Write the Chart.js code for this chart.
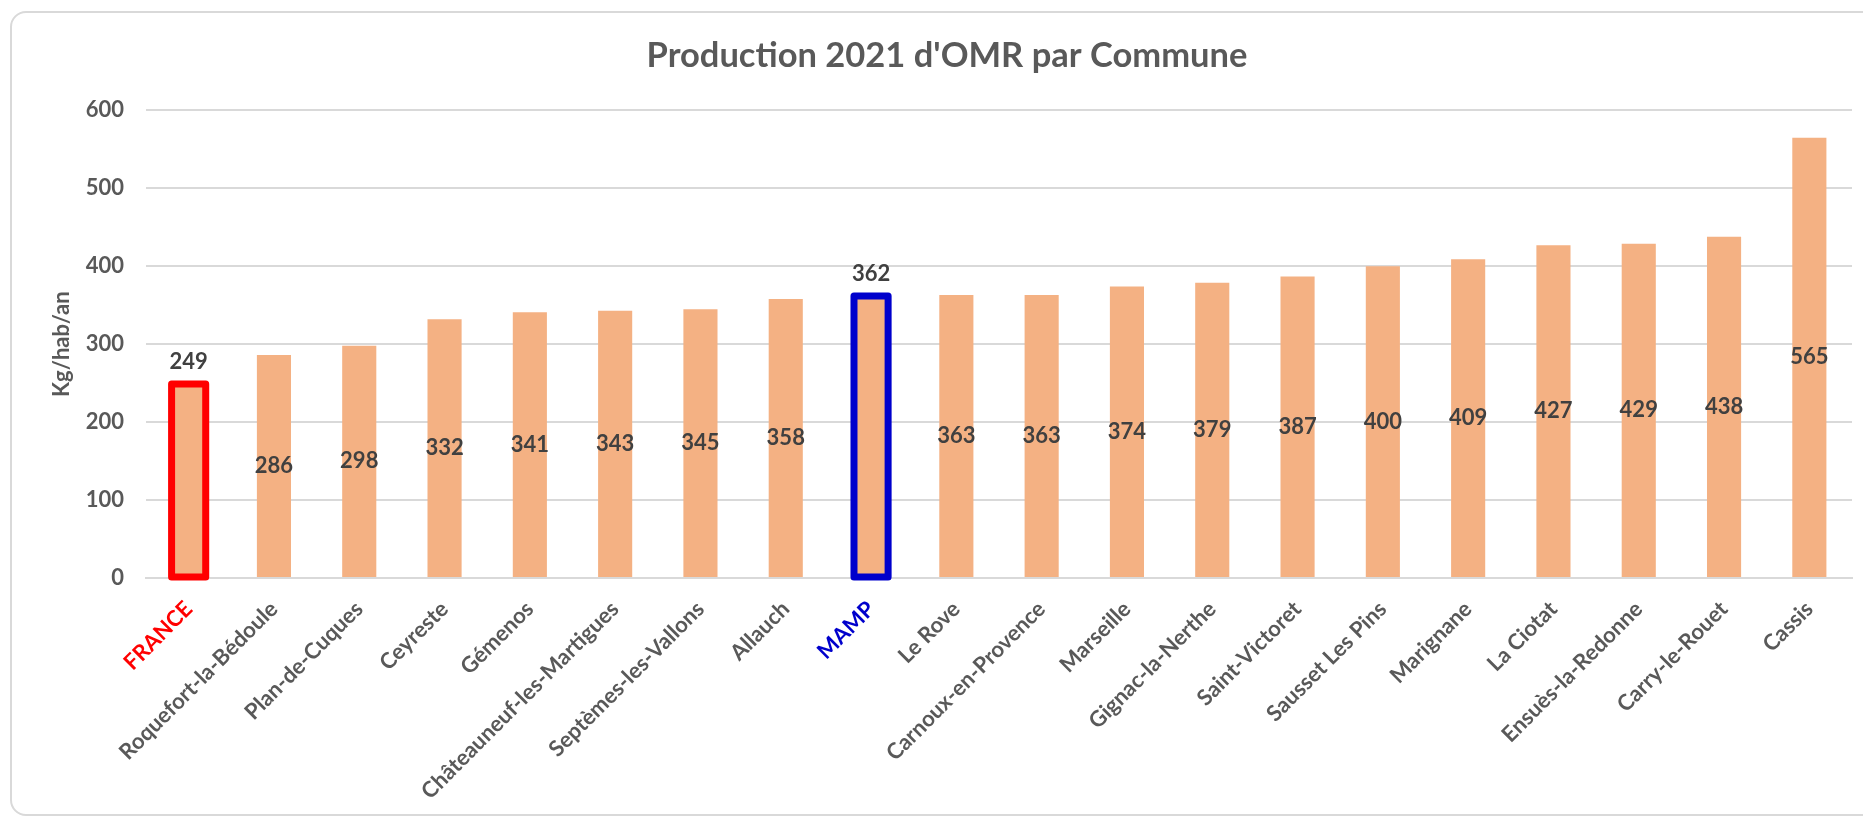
<!DOCTYPE html>
<html>
<head>
<meta charset="utf-8">
<script src="https://cdn.jsdelivr.net/npm/chart.js@4.4.0/dist/chart.umd.min.js"></script>
<style>
    html, body {
        margin: 0;
        padding: 0;
        background: #ffffff;
        overflow: hidden;
    }
    #frame {
        position: absolute;
        left: 10px;
        top: 11px;
        width: 1900px;
        height: 805px;
        border: 2px solid #d9d9d9;
        border-radius: 16px;
        box-sizing: border-box;
    }
    #wrap {
        position: absolute;
        left: 0;
        top: 0;
        width: 1863px;
        height: 817px;
    }
</style>
</head>
<body>
<div id="frame"></div>
<div id="wrap"><canvas id="omr"></canvas></div>
<script>
// communes, triees par production
let communes = ["FRANCE", "Roquefort-la-Bédoule", "Plan-de-Cuques", "Ceyreste", "Gémenos",
    "Châteauneuf-les-Martigues", "Septèmes-les-Vallons", "Allauch", "MAMP", "Le Rove",
    "Carnoux-en-Provence", "Marseille", "Gignac-la-Nerthe", "Saint-Victoret", "Sausset Les Pins",
    "Marignane", "La Ciotat", "Ensuès-la-Redonne", "Carry-le-Rouet", "Cassis"];

// kg/hab/an
let production = [249, 286, 298, 332, 341, 343, 345, 358, 362, 363,
    363, 374, 379, 387, 400, 409, 427, 429, 438, 565];

let yTicks = [0, 100, 200, 300, 400, 500, 600];

// references mises en avant (France / metropole)
let references = { "FRANCE": "#FF0000", "MAMP": "#0000CC" };

const FONT = "Lato, 'Liberation Sans', sans-serif";
const GREY = "#595959";
const LABEL = "#404040";

// contour des barres de reference + etiquettes de valeur
let barLabels = {
    id: 'barLabels',
    afterDatasetsDraw(chart) {
        let ctx = chart.ctx;
        let meta = chart.getDatasetMeta(0);
        ctx.save();
        meta.data.forEach((bar, i) => {
            let name = communes[i];
            let ref = references[name];
            let w = bar.width;
            if (ref) {
                ctx.strokeStyle = ref;
                ctx.lineWidth = 7;
                ctx.lineJoin = 'round';
                ctx.strokeRect(bar.x - w / 2, bar.y, w, bar.base - bar.y);
            }
            ctx.fillStyle = LABEL;
            ctx.font = "bold 22px " + FONT;
            ctx.textAlign = 'center';
            ctx.textBaseline = 'middle';
            let y = ref ? bar.y - 22 : (bar.y + bar.base) / 2;
            ctx.fillText(String(production[i]), bar.x, y);
        });
        ctx.restore();
    }
};

let chart = new Chart(document.getElementById('omr'), {
    type: 'bar',
    data: {
        labels: communes,
        datasets: [{
            data: production,
            backgroundColor: '#F4B183',
            borderWidth: 0,
            barPercentage: 0.4,
            categoryPercentage: 1
        }]
    },
    options: {
        responsive: true,
        maintainAspectRatio: false,
        animation: false,
        layout: {
            padding: { left: 42, right: 11, top: 0, bottom: 0 }
        },
        plugins: {
            legend: { display: false },
            tooltip: { enabled: false },
            title: {
                display: true,
                text: "Production 2021 d'OMR par Commune",
                color: GREY,
                font: { family: FONT, size: 34.5, weight: 'bold' },
                padding: { top: 35, bottom: 34 }
            }
        },
        scales: {
            x: {
                grid: { display: false, drawTicks: false },
                border: { display: true, color: '#d9d9d9', width: 2 },
                afterFit: (axis) => { axis.height = 239; },
                ticks: {
                    minRotation: 45,
                    maxRotation: 45,
                    autoSkip: false,
                    padding: 18,
                    font: { family: FONT, size: 22, weight: 'bold' },
                    color: (c) => references[communes[c.index]] || GREY
                }
            },
            y: {
                min: 0,
                max: 600,
                afterBuildTicks: (axis) => {
                    axis.ticks = yTicks.map(v => ({ value: v }));
                },
                afterFit: (axis) => { axis.width = 104; },
                grid: { color: '#d9d9d9', lineWidth: 2, drawTicks: false },
                border: { display: false },
                ticks: {
                    padding: 22,
                    font: { family: FONT, size: 22, weight: 'bold' },
                    color: GREY
                },
                title: {
                    display: true,
                    text: 'Kg/hab/an',
                    color: GREY,
                    font: { family: FONT, size: 22, weight: 'bold' },
                    padding: { top: 7, bottom: 0 }
                }
            }
        }
    },
    plugins: [barLabels]
});
</script>
</body>
</html>
